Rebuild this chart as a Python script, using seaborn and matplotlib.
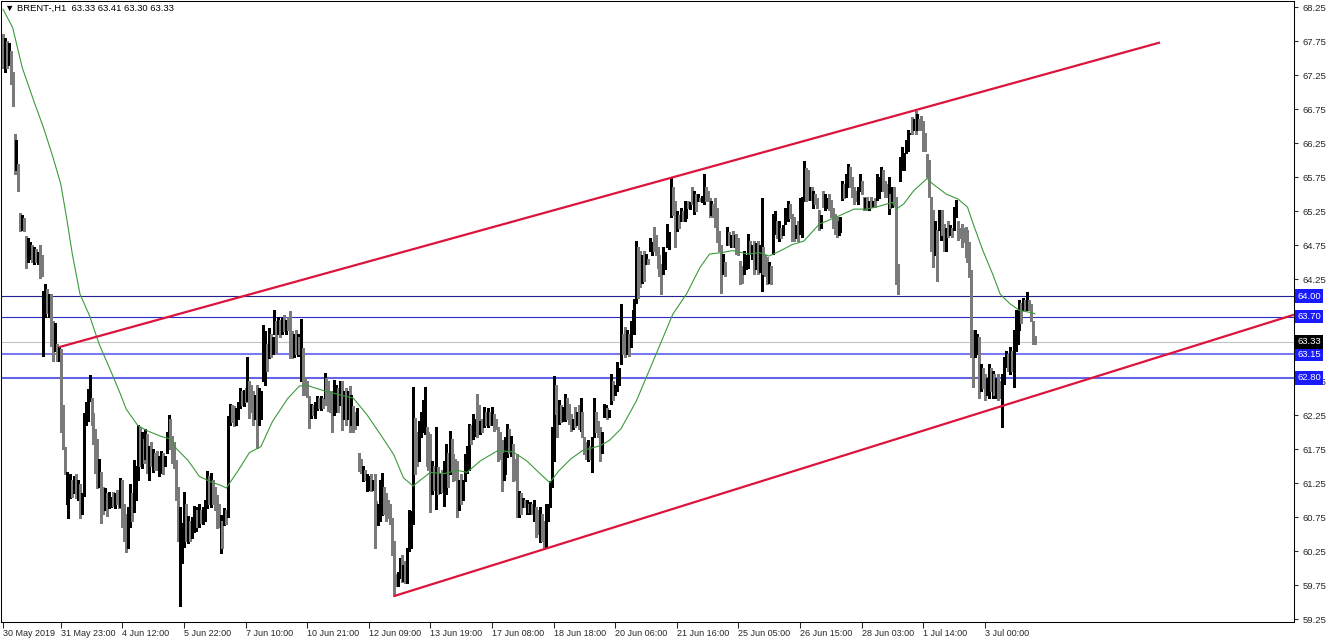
import numpy as np
import pandas as pd
import matplotlib
matplotlib.use("Agg")
import matplotlib.pyplot as plt
import seaborn as sns

# BRENT H1 bars (one value per hourly bar)
bar_high = [
    67.85, 67.80, 67.75, 67.72, 67.61, 67.30, 66.38, 66.30, 65.94, 65.23,
    65.20, 65.15, 64.89, 64.85, 64.80, 64.75, 64.72, 64.70, 64.65, 64.76,
    64.60, 64.08, 64.18, 64.10, 64.03, 64.03, 63.64, 63.60, 63.29, 63.25,
    63.22, 62.40, 61.79, 61.41, 61.20, 61.38, 61.30, 61.35, 61.38, 61.30,
    61.24, 61.10, 62.28, 62.45, 62.63, 62.84, 62.50, 62.28, 62.05, 61.90,
    61.60, 61.41, 61.20, 61.18, 61.10, 61.12, 61.05, 61.12, 61.10, 61.15,
    61.12, 61.32, 61.30, 60.95, 60.80, 60.90, 61.24, 61.10, 61.59, 61.50,
    62.11, 62.08, 62.00, 61.90, 62.05, 61.97, 61.80, 61.85, 61.76, 61.70,
    61.73, 61.65, 61.73, 61.70, 61.65, 62.00, 62.25, 62.20, 61.94, 61.85,
    61.59, 61.20, 60.90, 60.66, 61.12, 60.95, 60.77, 60.70, 60.75, 60.92,
    60.90, 60.85, 60.95, 60.86, 60.90, 61.00, 61.43, 61.35, 61.40, 61.30,
    61.20, 61.08, 60.95, 60.79, 60.70, 60.89, 60.85, 62.24, 62.41, 62.40,
    62.38, 62.35, 62.45, 62.65, 62.60, 62.62, 62.65, 63.10, 62.75, 62.70,
    62.60, 62.55, 62.70, 62.65, 62.60, 63.58, 63.49, 63.30, 63.53, 63.45,
    63.40, 63.80, 63.63, 63.70, 63.65, 63.70, 63.73, 63.65, 63.70, 63.78,
    63.49, 63.45, 63.50, 63.45, 63.40, 63.66, 63.24, 62.80, 62.75, 62.53,
    62.41, 62.40, 62.45, 62.53, 62.50, 62.53, 62.50, 62.87, 62.80, 62.75,
    62.60, 62.60, 62.77, 62.70, 62.65, 62.75, 62.75, 62.60, 62.65, 62.60,
    62.68, 62.55, 62.38, 62.30, 62.35, 61.70, 61.60, 61.50, 61.45, 61.38,
    61.35, 61.38, 61.30, 61.38, 60.99, 60.95, 61.30, 61.40, 61.20, 61.10,
    61.00, 60.95, 60.74, 60.40, 59.91, 59.95, 60.15, 60.20, 60.05, 60.10,
    60.30, 60.85, 60.84, 62.66, 62.21, 62.00, 62.17, 62.30, 62.47, 62.66,
    62.07, 62.00, 61.98, 61.58, 61.50, 62.07, 61.49, 61.40, 61.45, 61.58,
    61.83, 61.70, 62.02, 61.90, 61.68, 61.60, 61.58, 61.30, 61.39, 61.30,
    61.68, 61.80, 62.12, 62.10, 62.27, 62.20, 62.56, 62.40, 62.17, 62.20,
    62.37, 62.30, 62.35, 62.30, 62.37, 62.27, 62.20, 62.07, 62.00, 61.88,
    61.70, 61.93, 62.12, 62.05, 61.95, 61.83, 61.60, 61.68, 61.14, 61.10,
    61.04, 61.00, 61.00, 60.95, 60.98, 60.95, 61.00, 60.90, 60.85, 60.90,
    60.80, 60.70, 60.95, 60.95, 61.29, 62.07, 62.83, 62.70, 62.27, 62.47,
    62.40, 62.37, 62.56, 62.50, 62.42, 62.27, 62.20, 62.37, 62.30, 62.40,
    62.51, 62.30, 61.93, 61.85, 61.88, 61.80, 61.93, 62.51, 62.30, 62.17,
    62.07, 62.00, 62.42, 62.40, 62.35, 62.32, 62.86, 62.76, 62.70, 63.03,
    62.95, 63.88, 63.44, 63.54, 63.50, 63.45, 63.64, 63.80, 63.96, 64.81,
    64.72, 64.67, 64.60, 64.67, 64.62, 64.55, 64.86, 64.80, 65.01, 64.90,
    64.72, 64.60, 64.47, 64.72, 64.65, 65.06, 64.95, 65.75, 65.60, 65.40,
    65.25, 65.20, 65.30, 65.25, 65.40, 65.35, 65.40, 65.38, 65.60, 65.55,
    65.50, 65.50, 65.45, 65.48, 65.79, 65.60, 65.55, 65.45, 65.40, 65.35,
    65.45, 65.30, 64.96, 64.76, 64.62, 64.50, 65.01, 64.95, 64.90, 64.96,
    64.90, 64.91, 64.85, 64.52, 64.45, 64.67, 64.60, 64.91, 64.81, 64.75,
    64.81, 64.78, 64.81, 64.75, 65.45, 64.72, 64.60, 64.57, 64.50, 64.45,
    65.21, 65.25, 65.10, 65.11, 65.00, 65.05, 65.30, 65.25, 65.40, 65.35,
    65.21, 65.16, 65.05, 65.10, 65.45, 65.46, 65.99, 65.89, 65.85, 65.60,
    65.60, 65.55, 65.50, 65.45, 65.26, 65.20, 65.55, 65.50, 65.45, 65.50,
    65.41, 65.30, 65.21, 65.16, 65.10, 65.16, 65.70, 65.65, 65.80, 65.95,
    65.90, 65.75, 65.60, 65.55, 65.60, 65.80, 65.70, 65.46, 65.45, 65.46,
    65.40, 65.46, 65.40, 65.45, 65.80, 65.75, 65.90, 65.85, 65.70, 65.65,
    65.75, 65.50, 65.60, 65.60, 65.46, 64.48, 66.04, 66.19, 66.10, 66.30,
    66.44, 66.40, 66.63, 66.60, 66.73, 66.68, 66.60, 66.65, 66.58, 66.40,
    66.09, 66.00, 65.46, 65.26, 65.10, 64.97, 65.26, 65.20, 65.26, 65.06,
    65.00, 65.11, 65.05, 65.00, 65.31, 65.41, 65.11, 65.00, 65.06, 65.00,
    65.01, 64.97, 64.80, 64.38, 63.50, 63.50, 63.45, 63.40, 63.00, 62.95,
    62.86, 62.80, 63.00, 62.95, 62.90, 62.86, 62.80, 62.86, 62.75, 62.86,
    63.10, 63.20, 63.15, 63.25, 63.20, 63.50, 63.79, 63.70, 63.94, 63.90,
    63.98, 63.95, 64.06, 63.95, 63.89, 63.64, 63.41,
]
bar_low = [
    67.36, 67.30, 67.36, 67.40, 67.12, 66.80, 65.79, 65.85, 65.55, 64.96,
    64.98, 64.96, 64.42, 64.50, 64.55, 64.50, 64.47, 64.50, 64.47, 64.27,
    64.30, 63.12, 63.69, 63.75, 63.70, 63.27, 63.05, 63.20, 63.05, 63.05,
    62.00, 61.76, 61.38, 60.95, 60.74, 61.03, 61.05, 61.10, 61.03, 61.00,
    60.74, 60.80, 61.06, 62.10, 62.17, 62.46, 62.10, 61.82, 61.40, 61.18,
    61.20, 60.66, 60.80, 60.85, 60.77, 60.89, 60.90, 60.92, 60.89, 60.95,
    60.89, 60.90, 60.60, 60.40, 60.24, 60.30, 60.60, 60.70, 60.83, 61.00,
    61.30, 61.50, 61.47, 61.55, 61.60, 61.40, 61.30, 61.50, 61.41, 61.45,
    61.45, 61.35, 61.40, 61.38, 61.50, 61.70, 61.80, 61.75, 61.55, 61.47,
    61.00, 60.40, 59.44, 60.08, 60.31, 60.40, 60.37, 60.40, 60.45, 60.54,
    60.55, 60.60, 60.60, 60.67, 60.65, 60.70, 60.89, 60.95, 60.90, 60.95,
    60.85, 60.59, 60.60, 60.23, 60.30, 60.64, 60.65, 60.75, 62.11, 62.15,
    62.09, 62.10, 62.20, 62.36, 62.40, 62.38, 62.45, 62.46, 62.21, 62.30,
    62.11, 62.20, 61.77, 62.10, 62.20, 62.75, 62.70, 62.90, 63.09, 63.10,
    63.15, 63.44, 63.17, 63.44, 63.40, 63.44, 63.49, 63.45, 63.50, 63.09,
    63.09, 63.10, 63.15, 63.12, 63.15, 62.75, 62.55, 62.55, 62.52, 62.06,
    62.21, 62.25, 62.21, 62.33, 62.35, 62.33, 62.35, 62.50, 62.40, 62.31,
    62.30, 62.01, 62.26, 62.30, 62.30, 62.40, 62.04, 62.20, 62.11, 62.20,
    62.01, 62.10, 62.01, 62.05, 62.10, 61.43, 61.40, 61.28, 61.30, 61.13,
    61.15, 61.13, 61.15, 60.30, 60.64, 60.64, 60.70, 60.79, 60.80, 60.70,
    60.74, 60.65, 60.20, 59.59, 59.74, 59.74, 59.85, 59.80, 59.81, 59.79,
    59.78, 60.26, 60.30, 60.65, 61.39, 61.50, 61.58, 61.93, 62.00, 61.98,
    61.50, 61.44, 60.82, 61.09, 61.15, 60.87, 61.09, 61.10, 61.12, 60.92,
    61.09, 61.20, 61.39, 61.45, 61.29, 61.30, 60.75, 60.85, 60.95, 61.00,
    61.29, 61.40, 61.44, 61.83, 61.90, 61.95, 61.93, 62.00, 61.98, 62.00,
    62.07, 62.10, 62.07, 62.10, 62.10, 62.02, 62.05, 61.58, 61.60, 61.14,
    61.30, 61.39, 61.63, 61.70, 61.65, 61.29, 61.30, 60.75, 60.75, 60.80,
    60.90, 60.90, 60.80, 60.82, 60.80, 60.80, 60.70, 60.46, 60.50, 60.38,
    60.40, 60.28, 60.30, 60.70, 60.90, 61.20, 61.58, 62.27, 61.93, 62.12,
    62.15, 62.17, 62.17, 62.20, 62.12, 62.02, 62.05, 62.07, 62.10, 62.05,
    62.02, 61.93, 61.68, 61.60, 61.58, 61.60, 61.41, 61.93, 62.00, 61.93,
    61.58, 61.70, 62.22, 62.25, 62.20, 62.22, 62.42, 62.47, 62.55, 62.61,
    62.70, 63.00, 63.15, 63.10, 63.15, 63.12, 63.25, 63.44, 63.44, 63.90,
    63.98, 64.13, 64.20, 64.23, 64.47, 64.47, 64.67, 64.60, 64.67, 64.60,
    64.42, 64.30, 64.03, 64.32, 64.40, 64.72, 64.70, 65.16, 65.20, 64.72,
    64.96, 65.00, 65.11, 65.10, 65.11, 65.15, 65.30, 65.28, 65.35, 65.21,
    65.25, 65.40, 65.40, 65.38, 65.35, 65.40, 65.40, 65.16, 65.20, 65.16,
    65.01, 64.80, 64.67, 64.05, 64.32, 64.30, 64.76, 64.75, 64.72, 64.72,
    64.72, 64.62, 64.60, 64.18, 64.20, 64.32, 64.40, 64.42, 64.62, 64.55,
    64.32, 64.40, 64.32, 64.35, 64.08, 64.32, 64.30, 64.18, 64.20, 64.18,
    64.62, 64.91, 64.85, 64.81, 64.85, 64.90, 65.06, 65.11, 65.11, 65.15,
    64.81, 64.81, 64.85, 64.81, 64.91, 64.87, 65.40, 65.40, 65.41, 65.41,
    65.41, 65.30, 65.36, 65.30, 64.97, 65.00, 65.31, 65.26, 65.30, 65.26,
    65.16, 65.00, 64.92, 64.87, 64.90, 64.95, 65.41, 65.45, 65.46, 65.60,
    65.60, 65.46, 65.36, 65.40, 65.36, 65.55, 65.50, 65.26, 65.28, 65.26,
    65.26, 65.31, 65.31, 65.31, 65.41, 65.45, 65.55, 65.55, 65.46, 65.46,
    65.21, 65.30, 65.31, 65.35, 64.18, 64.03, 65.70, 65.85, 65.85, 66.10,
    66.14, 66.39, 66.39, 66.45, 66.39, 66.44, 66.45, 66.44, 66.14, 66.14,
    65.75, 65.46, 64.67, 64.43, 64.60, 64.23, 64.97, 64.82, 64.90, 64.67,
    64.67, 64.87, 64.90, 64.87, 64.97, 65.16, 64.82, 64.85, 64.72, 64.80,
    64.57, 64.50, 64.28, 63.10, 62.66, 63.10, 63.15, 62.51, 62.61, 62.65,
    62.47, 62.55, 62.51, 62.60, 62.51, 62.55, 62.51, 62.47, 62.50, 62.07,
    62.71, 62.96, 62.90, 62.86, 62.90, 62.66, 63.20, 63.30, 63.50, 63.60,
    63.79, 63.80, 63.79, 63.80, 63.64, 63.30, 63.30,
]
# 1 = bullish bar (black), 0 = bearish bar (grey)
bar_dir = (
    "0101000100" "1001101010" "0110100101" "0001110101" "0111110000"
    "1001011010" "0100011011" "1010101010" "0110111000" "0011101011"
    "1010111010" "0001010110" "0111010100" "0101111010" "1101010100"
    "0101010000" "1011010100" "0011010101" "0100100101" "1010011100"
    "0000011010" "1111001111" "0001010101" "1010000101" "1110110010"
    "1010100000" "1110100010" "1010101001" "0011111001" "0110001010"
    "1000101100" "0111011011" "1100101111" "0010101100" "0001111100"
    "1010110101" "0101100010" "0000101010" "1000011101" "0101100010"
    "1101011110" "0010111001" "0100010110" "0000111011" "0000110010"
    "1010111000" "1010001111" "1101010000" "0000101100" "1010110000"
    "0000011010" "0110101001" "1101011110" "1010000"
)

# moving average (green), sampled at bar positions
ma_bar = [0, 5, 10, 16, 21, 26, 30, 33, 36, 40, 45, 50, 56, 61, 64, 70, 75, 82, 87, 90,
          96, 102, 108, 113, 116, 122, 128, 134, 140, 148, 154, 158, 161, 168, 175, 182,
          189, 196, 203, 208, 213, 217, 222, 229, 236, 241, 248, 257, 265, 272, 279, 284,
          289, 295, 301, 310, 315, 321, 329, 340, 348, 355, 362, 367, 373, 379, 387, 393,
          398, 404, 410, 416, 424, 435, 442, 449, 456, 462, 464, 468, 473, 480, 483, 490,
          496, 501, 504, 509, 514, 518, 523, 528, 534, 536]
ma_value = [68.22, 67.95, 67.36, 66.87, 66.48, 66.04, 65.65, 65.16, 64.62, 64.03,
            63.71, 63.29, 62.90, 62.56, 62.34, 62.10, 62.02, 61.94, 61.90, 61.76,
            61.59, 61.35, 61.27, 61.22, 61.18, 61.43, 61.70, 61.79, 62.16, 62.50,
            62.68, 62.69, 62.66, 62.60, 62.55, 62.50, 62.26, 61.97, 61.67, 61.33,
            61.21, 61.30, 61.41, 61.39, 61.44, 61.41, 61.58, 61.73, 61.71, 61.58,
            61.39, 61.26, 61.44, 61.61, 61.73, 61.80, 61.88, 62.05, 62.46, 63.20,
            63.74, 64.03, 64.42, 64.62, 64.64, 64.67, 64.62, 64.64, 64.59, 64.67,
            64.76, 64.81, 65.06, 65.19, 65.28, 65.28, 65.33, 65.38, 65.28, 65.36,
            65.55, 65.73, 65.65, 65.50, 65.43, 65.31, 65.06, 64.67, 64.33, 64.03,
            63.89, 63.79, 63.76, 63.74]

# channel trend lines (bar index, price)
upper_x, upper_y = [29, 601], [63.25, 67.73]
lower_x, lower_y = [203, 672], [59.59, 63.74]

# horizontal levels
levels = [64.00, 63.70, 63.15, 62.80]
level_colors = ["#202090", "#2a2ac4", "#7a7af0", "#6464e8"]
level_widths = [0.8, 0.8, 1.5, 1.5]
last_price = 63.33

y_ticks = [68.25, 67.75, 67.25, 66.75, 66.25, 65.75, 65.25, 64.75, 64.25,
           62.75, 62.25, 61.75, 61.25, 60.75, 60.25, 59.75, 59.25]
x_tick_bars = [0, 30, 62, 94, 126, 158, 190, 222, 254, 286, 318, 350, 382, 414, 446, 478, 510]
x_tick_labels = ["30 May 2019", "31 May 23:00", "4 Jun 12:00", "5 Jun 22:00", "7 Jun 10:00",
                 "10 Jun 21:00", "12 Jun 09:00", "13 Jun 19:00", "17 Jun 08:00", "18 Jun 18:00",
                 "20 Jun 06:00", "21 Jun 16:00", "25 Jun 05:00", "26 Jun 15:00", "28 Jun 03:00",
                 "1 Jul 14:00", "3 Jul 00:00"]

sns.set_style("white")
plt.rcParams['font.family'] = ['Liberation Sans', 'DejaVu Sans']

n = min(len(bar_high), len(bar_low), len(bar_dir))
bars = pd.DataFrame({'idx': np.arange(n), 'high': bar_high[:n], 'low': bar_low[:n],
                     'up': [c == '1' for c in bar_dir[:n]]})

W, H = 1332, 641
fig = plt.figure(figsize=(W / 100, H / 100), dpi=100)
ax = fig.add_axes([1 / W, (H - 622) / H, 1293 / W, 621 / H])

# current price line + levels
ax.axhline(last_price, color="#c4c4c4", lw=0.8, zorder=1)
for lvl, col, lw in zip(levels, level_colors, level_widths):
    ax.axhline(lvl, color=col, lw=lw, zorder=2)

# bars
cols = np.where(bars['up'], "#000000", "#7a7a7a")
ax.vlines(bars['idx'], bars['low'], bars['high'], colors=cols, linewidth=0.75,
          antialiased=False, zorder=3)

# moving average
sns.lineplot(x=ma_bar, y=ma_value, ax=ax, color="#3c9a3c", linewidth=0.8, zorder=4)

# channel
ax.plot(upper_x, upper_y, color="#dc143c", lw=1.6, zorder=5, solid_capstyle='butt')
ax.plot(lower_x, lower_y, color="#dc143c", lw=1.6, zorder=5, solid_capstyle='butt')

ax.set_xlim(-1.04, 670.6)
ax.set_ylim(59.21, 68.34)

ax.yaxis.tick_right()
ax.set_yticks(y_ticks)
ax.set_yticklabels([f"{v:.2f}" for v in y_ticks])
ax.tick_params(axis='y', direction='out', length=3, width=0.75, pad=3, labelsize=6.8,
               right=True, left=False)
ax.set_xticks(x_tick_bars)
ax.set_xticklabels(x_tick_labels, ha='left')
ax.tick_params(axis='x', direction='out', length=4, width=0.75, pad=1, labelsize=6.5,
               bottom=True)
ax.set_xlabel("")
ax.set_ylabel("")
ax.grid(False)
for sp in ax.spines.values():
    sp.set_color("black")
    sp.set_linewidth(0.75)

# price boxes on the right scale
tr = ax.get_yaxis_transform()
for lvl in levels:
    ax.text(1.0 + 3 / 1293, lvl, f"{lvl:.2f}", transform=tr, ha='left', va='center',
            color='white', fontsize=6.8, zorder=10, clip_on=False,
            bbox=dict(boxstyle='square,pad=0.25', fc='#1a1aff', ec='none'))
ax.text(1.0 + 3 / 1293, last_price, f"{last_price:.2f}", transform=tr, ha='left',
        va='center', color='white', fontsize=6.8, zorder=11, clip_on=False,
        bbox=dict(boxstyle='square,pad=0.25', fc='black', ec='none'))

fig.text(5 / W, 1 - 8 / H, "\u25bc BRENT-,H1  63.33 63.41 63.30 63.33", fontsize=6.8,
         ha='left', va='center', color='black', family=['Liberation Sans', 'DejaVu Sans'])

fig.savefig("out.png", dpi=100)
